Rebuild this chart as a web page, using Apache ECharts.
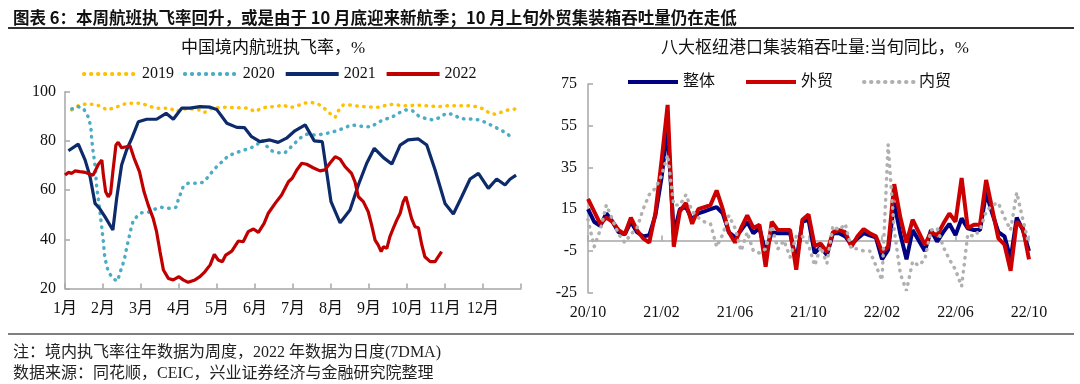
<!DOCTYPE html>
<html><head><meta charset="utf-8">
<script src="https://cdn.jsdelivr.net/npm/echarts@6/dist/echarts.min.js"></script>
<style>html,body{margin:0;padding:0;background:#fff}#c{width:1080px;height:384px}</style>
</head><body><div id="c"></div>
<script>
// ---------- Left chart: domestic flight execution rate (x = month position, 0 = 1月 start) ----------
const monthLabels = ['1月','2月','3月','4月','5月','6月','7月','8月','9月','10月','11月','12月'];
const d2019 = [[0.18,92.6],[0.35,94.3],[0.55,95.0],[0.74,94.9],[0.92,94.2],[1.10,92.6],[1.27,93.3],[1.45,94.3],[1.62,95.3],[1.82,95.3],[2.02,95.3],[2.19,94.2],[2.39,93.3],[2.59,93.3],[2.76,93.3],[2.92,91.9],[3.10,93.0],[3.29,93.0],[3.47,93.0],[3.66,91.5],[3.86,93.3],[4.03,93.5],[4.23,93.7],[4.43,93.5],[4.63,93.5],[4.82,93.3],[5.00,91.9],[5.18,93.3],[5.35,93.9],[5.54,93.9],[5.74,94.6],[5.92,93.5],[6.10,94.2],[6.29,95.3],[6.47,95.7],[6.67,94.9],[6.82,93.3],[6.97,91.2],[7.11,89.6],[7.19,92.2],[7.32,94.6],[7.50,94.6],[7.69,94.2],[7.89,93.9],[8.09,93.7],[8.29,93.7],[8.47,94.6],[8.67,94.9],[8.86,94.3],[9.06,94.3],[9.24,94.6],[9.43,94.3],[9.63,94.2],[9.82,93.9],[10.03,94.3],[10.22,94.3],[10.42,94.3],[10.61,94.3],[10.82,93.9],[11.01,93.0],[11.18,91.2],[11.33,90.8],[11.52,91.9],[11.66,92.6],[11.87,93.0]];
const d2020 = [[0.18,93.0],[0.35,93.9],[0.48,93.3],[0.61,89.8],[0.68,85.8],[0.70,81.1],[0.74,75.6],[0.79,70.2],[0.83,62.1],[0.88,56.0],[0.92,51.2],[0.97,44.5],[1.01,39.0],[1.05,32.3],[1.14,26.8],[1.27,23.9],[1.38,23.0],[1.47,27.5],[1.56,31.6],[1.62,36.3],[1.68,40.4],[1.74,44.5],[1.80,47.8],[1.89,49.2],[2.02,50.8],[2.19,51.0],[2.37,52.3],[2.54,53.0],[2.76,52.6],[2.92,53.0],[2.98,56.0],[3.11,61.4],[3.24,62.8],[3.47,62.8],[3.64,63.2],[3.77,65.4],[3.86,67.2],[4.03,70.2],[4.16,71.8],[4.29,73.9],[4.47,75.0],[4.65,76.0],[4.87,77.0],[5.04,78.3],[5.18,80.4],[5.39,76.3],[5.57,75.2],[5.79,75.2],[6.00,78.3],[6.18,81.1],[6.36,82.7],[6.58,82.4],[6.76,82.7],[6.97,83.3],[7.15,84.1],[7.32,85.1],[7.54,86.5],[7.68,86.2],[7.89,85.8],[8.07,85.8],[8.24,87.6],[8.42,88.8],[8.60,89.6],[8.77,91.2],[8.95,92.6],[9.15,92.2],[9.30,90.2],[9.47,89.2],[9.68,88.5],[9.85,89.4],[10.03,91.2],[10.20,90.8],[10.39,89.2],[10.57,88.8],[10.74,88.9],[10.94,88.4],[11.11,87.2],[11.29,85.8],[11.47,84.4],[11.62,83.1],[11.78,81.0]];
const d2021 = [[0.09,76.0],[0.35,78.7],[0.53,72.2],[0.66,65.4],[0.79,54.6],[0.92,52.3],[1.05,49.2],[1.26,43.8],[1.36,56.7],[1.49,70.2],[1.62,76.3],[1.76,81.1],[1.93,87.8],[2.15,88.8],[2.41,88.8],[2.66,91.2],[2.85,88.8],[3.07,93.3],[3.29,93.3],[3.55,93.9],[3.82,93.7],[3.99,92.8],[4.26,87.2],[4.52,85.5],[4.72,85.4],[4.91,81.7],[5.13,79.7],[5.39,80.4],[5.61,79.4],[5.83,81.1],[6.05,84.1],[6.32,86.5],[6.56,80.0],[6.77,79.7],[7.00,55.3],[7.24,46.7],[7.50,51.9],[7.72,62.1],[7.94,70.9],[8.14,77.0],[8.38,73.2],[8.60,70.6],[8.82,78.3],[9.03,80.4],[9.30,80.8],[9.52,78.3],[9.74,68.2],[10.00,54.6],[10.22,50.3],[10.44,57.3],[10.66,64.5],[10.88,66.8],[11.14,60.7],[11.36,64.5],[11.58,62.1],[11.71,64.4],[11.87,66.1]];
const d2022 = [[0.00,66.1],[0.09,67.2],[0.18,66.8],[0.26,67.8],[0.39,67.5],[0.53,67.2],[0.66,66.4],[0.74,66.1],[0.88,70.5],[0.97,72.2],[1.01,66.1],[1.07,59.3],[1.14,57.3],[1.20,58.7],[1.26,67.5],[1.34,78.3],[1.40,79.4],[1.49,77.2],[1.61,77.6],[1.71,78.0],[1.82,72.9],[1.96,67.5],[2.08,59.3],[2.19,53.9],[2.32,48.5],[2.41,43.1],[2.50,35.0],[2.59,27.5],[2.72,24.1],[2.85,23.5],[3.00,24.8],[3.11,23.5],[3.24,22.5],[3.42,23.5],[3.55,24.8],[3.68,26.8],[3.82,29.6],[3.93,33.9],[4.03,31.6],[4.14,30.9],[4.23,33.6],[4.39,35.2],[4.56,39.3],[4.69,39.0],[4.82,43.1],[4.96,44.2],[5.09,42.8],[5.24,46.5],[5.35,50.6],[5.53,54.6],[5.70,58.0],[5.88,63.4],[5.98,64.8],[6.10,68.2],[6.23,70.9],[6.36,70.5],[6.53,69.1],[6.71,67.8],[6.84,68.2],[6.97,70.9],[7.11,73.6],[7.24,72.6],[7.37,69.5],[7.54,66.8],[7.63,63.4],[7.72,57.3],[7.85,55.3],[7.98,51.2],[8.07,45.8],[8.16,39.7],[8.24,37.7],[8.32,35.0],[8.38,37.0],[8.47,36.3],[8.55,41.1],[8.64,44.5],[8.73,47.8],[8.82,50.6],[8.90,55.3],[8.97,57.3],[9.03,53.9],[9.12,48.5],[9.21,45.1],[9.30,44.7],[9.39,37.7],[9.47,32.9],[9.61,30.9],[9.74,30.9],[9.82,32.9],[9.91,35.0]];

// ---------- Right chart: container throughput of 8 hub ports, YoY per 旬 ----------
const portMonths = ['20/10','20/11','20/12','21/01','21/02','21/03','21/04','21/05','21/06','21/07','21/08','21/09','21/10','21/11','21/12','22/01','22/02','22/03','22/04','22/05','22/06','22/07','22/08','22/09'];
const periods = [];
portMonths.forEach(m => ['上旬','中旬','下旬'].forEach(p => periods.push(m + p)));
periods.push('22/10上旬');
const total = [15,9,7,13,9,4,3,9,4,2,2.5,12,30,54,3,15,16,10,13,14,15,16,13,4,1.5,5,9,3.5,6,-6,4,3.5,3.5,3.5,-10,9,10,-6,-3,-7,3.5,3.5,2,-2,1,3.5,2.5,1.5,-9,-4.5,18,3,-9,5,0,-5,5,-0.5,4,8,2.6,10.6,5.8,5,5,23,13,4,2,-9,11,5,-5];
const foreign = [20,14,8,11,9,5,3,11,5,1,-1,13,38,65,-3,14,18,8,15,16,17,24,15,4,-1,6,12,6,7.5,-12.5,9,5,5,5,-14,10,12.5,-2.5,-1.5,-5.5,4,5,4,-3,2,5.5,3.5,2,-5.5,-3,27,11,-1,10,4,-2,4,2.5,8,13,9,30,6,7.5,7.5,29,15,1,-2,-14.5,9,6,-9];
const domestic = [10,-3,5,17,10,3,-1,3,6,15,22,25,31,41,17,17,22,14,11,9,8,-3,3,12,6,-5,4,-5,-6,-4,7,-4,0,-8,2,2,-2,-12,-3,-11,7,5,8,-4,-4,-5,-5,-12,-19,46,5,-16,-24,-10,-12,-9,5,6,-3,-9,-14,-22,3,2,5,14,17,18,11,5,23,10,-2];

const SERIF = "'Liberation Serif','Times New Roman','Noto Sans CJK SC',serif";
const CJK = "'Noto Sans CJK SC','Liberation Serif',sans-serif";
const axisGray = '#a6a6a6';
const dotted = (color, w) => ({color: color, width: w, type: [0.5, 6.5], cap: 'round'});

const chart = echarts.init(document.getElementById('c'), null, {renderer: 'canvas'});
chart.setOption({
  animation: false,
  backgroundColor: '#fff',
  title: [
    {text: '图表 6：本周航班执飞率回升，或是由于 10 月底迎来新航季；10 月上旬外贸集装箱吞吐量仍在走低', left: 8, top: 4,
     textStyle: {fontFamily: CJK, fontSize: 16.5, fontWeight: 'bold', color: '#111'}},
    {text: '中国境内航班执飞率，%', left: 268, top: 35, textAlign: 'center',
     textStyle: {fontFamily: SERIF, fontSize: 17, fontWeight: 'normal', color: '#111'}},
    {text: '八大枢纽港口集装箱吞吐量:当旬同比，%', left: 810, top: 35, textAlign: 'center',
     textStyle: {fontFamily: SERIF, fontSize: 17, fontWeight: 'normal', color: '#111'}},
    {text: '注：境内执飞率往年数据为周度，2022 年数据为日度(7DMA)', left: 8, top: 340,
     textStyle: {fontFamily: SERIF, fontSize: 16, fontWeight: 'normal', color: '#222'}},
    {text: '数据来源：同花顺，CEIC，兴业证券经济与金融研究院整理', left: 8, top: 361,
     textStyle: {fontFamily: SERIF, fontSize: 16, fontWeight: 'normal', color: '#222'}}
  ],
  graphic: [
    {type: 'line', shape: {x1: 8, y1: 28, x2: 1074, y2: 28}, style: {stroke: '#333', lineWidth: 2}},
    {type: 'line', shape: {x1: 8, y1: 334, x2: 1074, y2: 334}, style: {stroke: '#555', lineWidth: 1.5}}
  ],
  legend: [
    {left: 77, top: 61, itemWidth: 53, itemHeight: 12, itemGap: 9,
     itemStyle: {opacity: 0}, lineStyle: {width: 3.8},
     textStyle: {fontFamily: SERIF, fontSize: 16, color: '#111'},
     data: ['2019', '2020', '2021', '2022']},
    {left: 621, top: 69, itemWidth: 50, itemHeight: 12, itemGap: 29,
     itemStyle: {opacity: 0}, lineStyle: {width: 4},
     textStyle: {fontFamily: SERIF, fontSize: 16, color: '#111'},
     data: ['整体', '外贸', '内贸']}
  ],
  grid: [
    {left: 65, right: 559, top: 91.7, bottom: 95.5},
    {left: 588, right: 51, top: 84, bottom: 91.3}
  ],
  xAxis: [
    {gridIndex: 0, type: 'value', min: 0, max: 12, interval: 1,
     axisLine: {lineStyle: {color: axisGray, width: 1.5}},
     axisTick: {inside: true, length: 5, lineStyle: {color: axisGray, width: 1.5}},
     splitLine: {show: false},
     axisLabel: {formatter: v => (v < 12 ? monthLabels[v] : ''), color: '#111', fontFamily: SERIF, fontSize: 16, margin: 12}},
    {gridIndex: 1, type: 'category', data: periods, boundaryGap: false,
     axisLine: {show: false}, axisTick: {show: false},
     axisLabel: {interval: 11, formatter: v => v.slice(0, 5), color: '#111', fontFamily: SERIF, fontSize: 16, margin: 12}},
    {gridIndex: 1, type: 'category', data: periods, boundaryGap: false, position: 'bottom',
     axisLine: {onZero: true, onZeroAxisIndex: 1, lineStyle: {color: axisGray, width: 1.5}},
     axisTick: {inside: true, interval: 11, length: 5, lineStyle: {color: axisGray, width: 1.5}},
     axisLabel: {show: false}}
  ],
  yAxis: [
    {gridIndex: 0, type: 'value', min: 20, max: 100, interval: 20,
     axisLine: {show: true, lineStyle: {color: axisGray, width: 1.5}},
     axisTick: {show: true, inside: true, length: 5, lineStyle: {color: axisGray, width: 1.5}},
     splitLine: {show: false},
     axisLabel: {color: '#111', fontFamily: SERIF, fontSize: 16, margin: 9}},
    {gridIndex: 1, type: 'value', min: -25, max: 75, interval: 20,
     axisLine: {show: true, lineStyle: {color: axisGray, width: 1.5}},
     axisTick: {show: true, inside: true, length: 5, lineStyle: {color: axisGray, width: 1.5}},
     splitLine: {show: false},
     axisLabel: {color: '#111', fontFamily: SERIF, fontSize: 16, margin: 11}}
  ],
  series: [
    {name: '2019', type: 'line', xAxisIndex: 0, yAxisIndex: 0, data: d2019, symbol: 'none', showSymbol: false,
     lineStyle: dotted('#FFC000', 3.5), itemStyle: {color: '#FFC000'}},
    {name: '2020', type: 'line', xAxisIndex: 0, yAxisIndex: 0, data: d2020, symbol: 'none', showSymbol: false,
     lineStyle: dotted('#4BACC6', 3.5), itemStyle: {color: '#4BACC6'}},
    {name: '2021', type: 'line', xAxisIndex: 0, yAxisIndex: 0, data: d2021, symbol: 'none', showSymbol: false,
     lineStyle: {color: '#0D2B6B', width: 3.2}, itemStyle: {color: '#0D2B6B'}},
    {name: '2022', type: 'line', xAxisIndex: 0, yAxisIndex: 0, data: d2022, symbol: 'none', showSymbol: false,
     lineStyle: {color: '#C00000', width: 3.2}, itemStyle: {color: '#C00000'}},
    {name: '整体', type: 'line', xAxisIndex: 1, yAxisIndex: 1, data: total, symbol: 'none', showSymbol: false,
     lineStyle: {color: '#000080', width: 4}, itemStyle: {color: '#000080'}},
    {name: '外贸', type: 'line', xAxisIndex: 1, yAxisIndex: 1, data: foreign, symbol: 'none', showSymbol: false,
     lineStyle: {color: '#CC0000', width: 4}, itemStyle: {color: '#CC0000'}},
    {name: '内贸', type: 'line', xAxisIndex: 1, yAxisIndex: 1, data: domestic, symbol: 'none', showSymbol: false,
     lineStyle: dotted('#B0B0B0', 3.5), itemStyle: {color: '#B0B0B0'}}
  ]
});
</script></body></html>
